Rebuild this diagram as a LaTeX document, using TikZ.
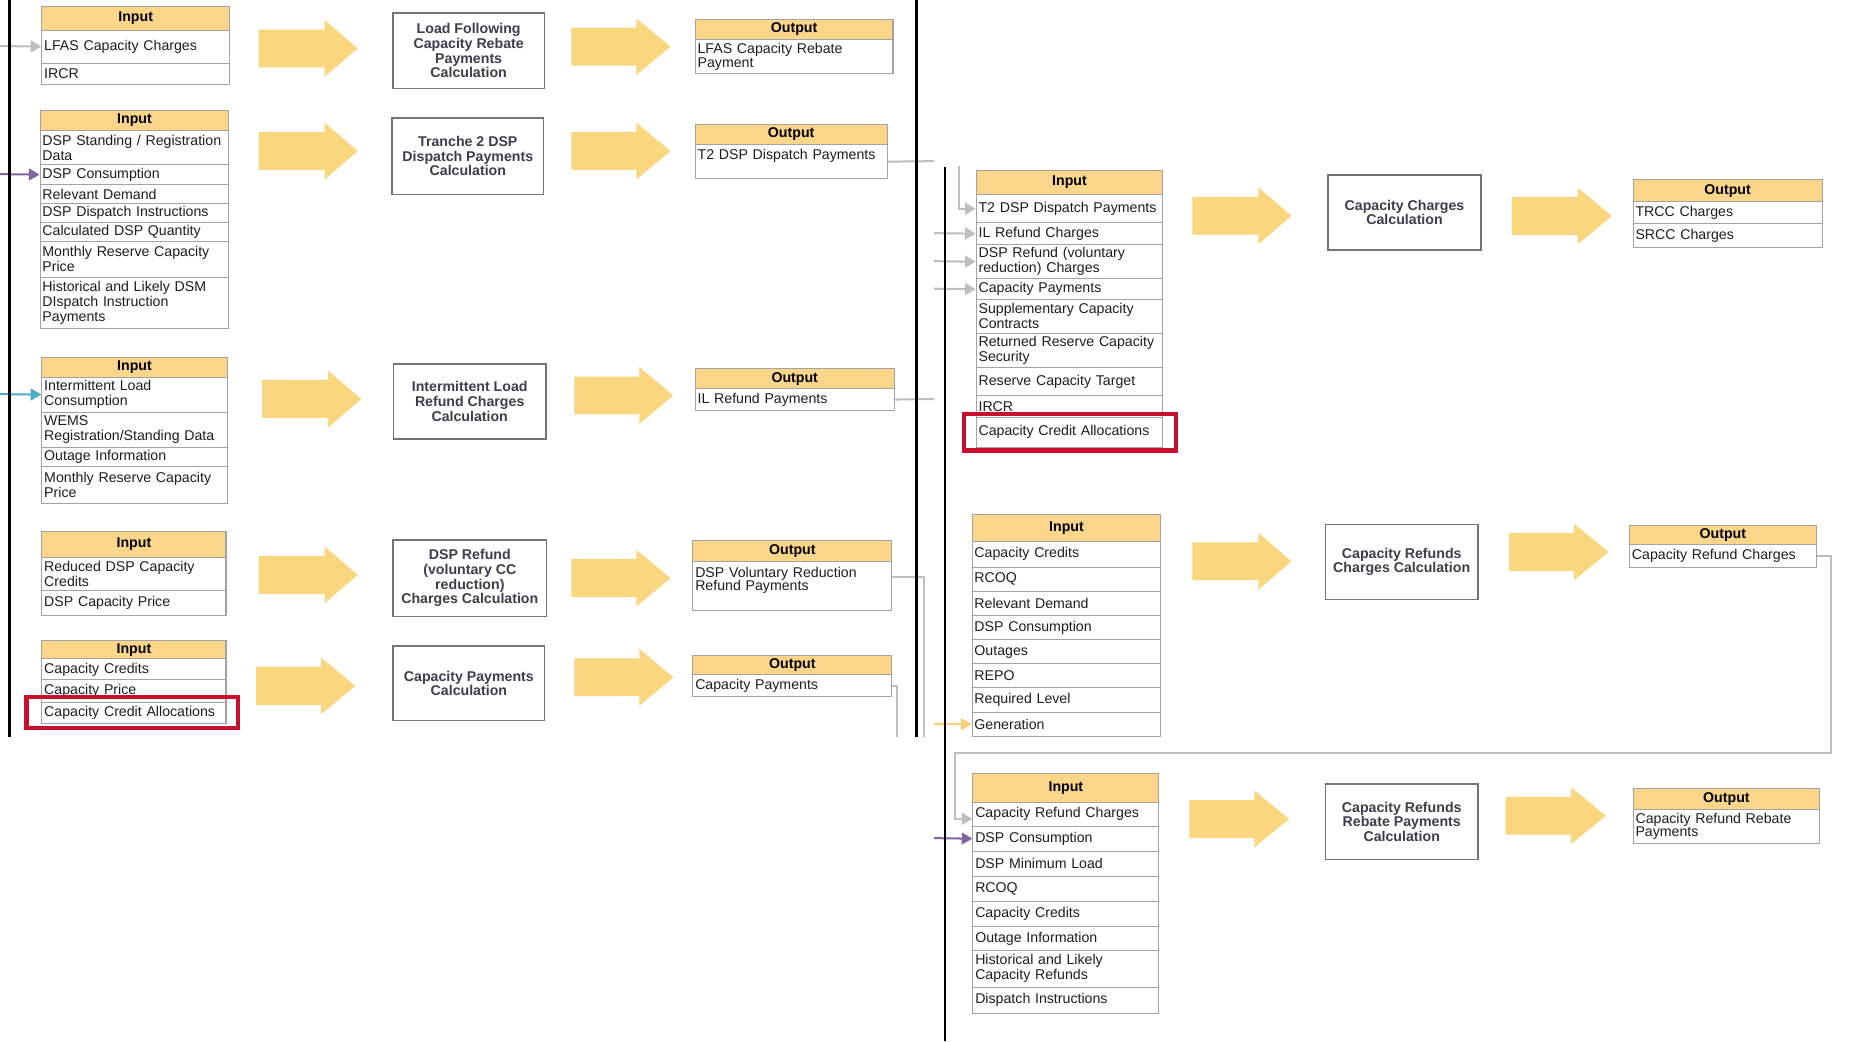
\documentclass[tikz,border=0pt]{standalone}
\usepackage{fontspec}
\setmainfont{Liberation Sans}
\usetikzlibrary{arrows.meta}

\definecolor{hdrfill}{HTML}{FAD58A}
\definecolor{bigarrow}{HTML}{FAD67E}
\definecolor{tblline}{HTML}{A3A3A3}
\definecolor{calcline}{HTML}{747474}
\definecolor{calctext}{HTML}{3D3D4D}
\definecolor{rowtext}{HTML}{1E1E1E}
\definecolor{linkgray}{HTML}{BEBEBE}
\definecolor{linkpurple}{HTML}{8064A2}
\definecolor{linkteal}{HTML}{4BACC6}
\definecolor{linkgold}{HTML}{F6D27C}
\definecolor{hilite}{HTML}{C8102E}

\newcommand\dgRow{\fontsize{12}{12.7}\selectfont}
\newcommand\dgOut{\fontsize{12}{11.7}\selectfont}
\newcommand\dgCalc{\fontsize{12}{12.4}\selectfont\bfseries}
\newcommand\dgHead{\fontsize{12}{13}\selectfont\bfseries}

% wide yellow process arrow: tail x, head base x, tip x, centre y
\newcommand\dgArrow[4]{%
  \fill[bigarrow] (#1,#4-16) -- (#2,#4-16) -- (#2,#4-24) -- (#3,#4)
    -- (#2,#4+24) -- (#2,#4+16) -- (#1,#4+16) -- cycle;}

\tikzset{
  cw/.code={\pgfmathsetmacro\dgtw{#1-4}%
    \edef\dgnext{\noexpand\pgfkeysalso{minimum width=#1pt,text width=\dgtw pt}}\dgnext},
  ch/.style={minimum height=#1pt},
  cell/.style={draw=tblline, line width=0.9pt, fill=white, anchor=north west,
    inner xsep=2pt, inner ysep=0.5pt, align=left, font=\dgRow, text=rowtext},
  outcell/.style={cell, font=\dgOut},
  hdrcell/.style={cell, fill=hdrfill, align=center, font=\dgHead, text=black},
  calcbox/.style={draw=calcline, line width=1.1pt, fill=white, align=center,
    font=\dgCalc, text=calctext, inner sep=0pt},
  link/.style={draw=linkgray, line width=1.7pt},
  linkarrow/.style={-{Triangle[length=9pt,width=10pt]}},
  panel/.style={draw=black, line width=2.5pt},
  redbox/.style={draw=hilite, line width=3.6pt}
}

\begin{document}
\begin{tikzpicture}[x=1pt,y=-1pt]
\fill[white] (0,0) rectangle (1568,882);
\useasboundingbox (0,0) rectangle (1568,882);

% ---------------- left column: five calculations ----------------
% Load Following Capacity Rebate
\node[hdrcell, cw=159, ch=20] (inA0) at (35,5) {Input};
\node[cell, cw=159, ch=28] (inA1) at (35,25) {LFAS Capacity Charges};
\node[cell, cw=159, ch=18] (inA2) at (35,53) {IRCR};
\dgArrow{219}{275}{303}{41}
\node[calcbox, minimum width=128pt, minimum height=64pt] (calcA) at (397,43)
  {Load Following\\Capacity Rebate\\Payments\\Calculation};
\dgArrow{484}{539}{568}{39.5}
\node[hdrcell, cw=167.5, ch=17] (outA0) at (588.5,16) {Output};
\node[outcell, cw=167.5, ch=29] (outA1) at (588.5,33) {LFAS Capacity Rebate\\Payment};

% Tranche 2 DSP Dispatch Payments
\node[hdrcell, cw=160, ch=17] (inB0) at (33.5,93) {Input};
\node[cell, cw=160, ch=29] (inB1) at (33.5,110) {DSP Standing / Registration\\Data};
\node[cell, cw=160, ch=17] (inB2) at (33.5,139) {DSP Consumption};
\node[cell, cw=160, ch=16] (inB3) at (33.5,156) {Relevant Demand};
\node[cell, cw=160, ch=16] (inB4) at (33.5,172) {DSP Dispatch Instructions};
\node[cell, cw=160, ch=16] (inB5) at (33.5,188) {Calculated DSP Quantity};
\node[cell, cw=160, ch=30.5] (inB6) at (33.5,204) {Monthly Reserve Capacity\\Price};
\node[cell, cw=160, ch=43] (inB7) at (33.5,234.5) {Historical and Likely DSM\\DIspatch Instruction\\Payments};
\dgArrow{219}{275}{303}{128}
\node[calcbox, minimum width=128.5pt, minimum height=64.5pt] (calcB) at (396.3,132.3)
  {Tranche 2 DSP\\Dispatch Payments\\Calculation};
\dgArrow{484}{539}{568}{128}
\node[hdrcell, cw=162.5, ch=17] (outB0) at (588.5,105) {Output};
\node[outcell, cw=162.5, ch=29] (outB1) at (588.5,122) {T2 DSP Dispatch Payments\\\mbox{}};

% Intermittent Load Refund Charges
\node[hdrcell, cw=157, ch=17] (inC0) at (35,302) {Input};
\node[cell, cw=157, ch=29.7] (inC1) at (35,319) {Intermittent Load\\Consumption};
\node[cell, cw=157, ch=29.7] (inC2) at (35,348.7) {WEMS\\Registration/Standing Data};
\node[cell, cw=157, ch=16.3] (inC3) at (35,378.4) {Outage Information};
\node[cell, cw=157, ch=31.7] (inC4) at (35,394.7) {Monthly Reserve Capacity\\Price};
\dgArrow{222}{278}{306}{338}
\node[calcbox, minimum width=129pt, minimum height=63.6pt] (calcC) at (397.9,340.1)
  {Intermittent Load\\Refund Charges\\Calculation};
\dgArrow{486.5}{541.6}{570.4}{335}
\node[hdrcell, cw=168.5, ch=17] (outC0) at (588.5,312) {Output};
\node[outcell, cw=168.5, ch=18] (outC1) at (588.5,329) {IL Refund Payments};

% DSP Refund (voluntary CC reduction) Charges
\node[hdrcell, cw=156, ch=22] (inD0) at (35,449.5) {Input};
\node[cell, cw=156, ch=28.5] (inD1) at (35,471.5) {Reduced DSP Capacity\\Credits};
\node[cell, cw=156, ch=21] (inD2) at (35,500) {DSP Capacity Price};
\dgArrow{219}{275}{303}{487}
\node[calcbox, minimum width=130pt, minimum height=65pt] (calcD) at (398,489.9)
  {DSP Refund\\(voluntary CC\\reduction)\\Charges Calculation};
\dgArrow{484}{539}{568}{489.7}
\node[hdrcell, cw=168.5, ch=17.3] (outD0) at (586.5,457.7) {Output};
\node[outcell, cw=168.5, ch=41.5] (outD1) at (586.5,475) {DSP Voluntary Reduction\\Refund Payments\\\mbox{}};

% Capacity Payments
\node[hdrcell, cw=156, ch=15.7] (inE0) at (35,542) {Input};
\node[cell, cw=156, ch=17.8] (inE1) at (35,557.7) {Capacity Credits};
\node[cell, cw=156, ch=18.9] (inE2) at (35,575.5) {Capacity Price};
\node[cell, cw=156, ch=18.3] (inE3) at (35,594.4) {Capacity Credit Allocations};
\draw[redbox] ([xshift=-12.5pt,yshift=3.9pt]inE3.north west) rectangle ([xshift=10pt,yshift=-2.8pt]inE3.south east);
\dgArrow{217}{272}{301}{581}
\node[calcbox, minimum width=128.4pt, minimum height=63.3pt] (calcE) at (397.2,578.9)
  {Capacity Payments\\Calculation};
\dgArrow{486.5}{541.6}{570.4}{573.7}
\node[hdrcell, cw=168.5, ch=16.4] (outE0) at (586.5,554.5) {Output};
\node[outcell, cw=168.5, ch=18.8] (outE1) at (586.5,570.9) {Capacity Payments};

% ---------------- right column: three calculations ----------------
% Capacity Charges
\node[hdrcell, cw=158, ch=20.3] (inF0) at (826.5,144) {Input};
\node[cell, cw=158, ch=24] (inF1) at (826.5,164.3) {T2 DSP Dispatch Payments};
\node[cell, cw=158, ch=18.4] (inF2) at (826.5,188.3) {IL Refund Charges};
\node[cell, cw=158, ch=29.1] (inF3) at (826.5,206.7) {DSP Refund (voluntary\\reduction) Charges};
\node[cell, cw=158, ch=17.5] (inF4) at (826.5,235.8) {Capacity Payments};
\node[cell, cw=158, ch=28.5] (inF5) at (826.5,253.3) {Supplementary Capacity\\Contracts};
\node[cell, cw=158, ch=28.8] (inF6) at (826.5,281.8) {Returned Reserve Capacity\\Security};
\node[cell, cw=158, ch=24] (inF7) at (826.5,310.6) {Reserve Capacity Target};
\node[cell, cw=158, ch=18.4] (inF8) at (826.5,334.6) {IRCR};
\node[cell, cw=158, ch=25.4] (inF9) at (826.5,353) {Capacity Credit Allocations};
\draw[redbox] ([xshift=-10pt,yshift=2.5pt]inF9.north west) rectangle ([xshift=10.5pt,yshift=-2.4pt]inF9.south east);
\dgArrow{1010}{1066}{1094}{182.8}
\node[calcbox, minimum width=129.5pt, minimum height=63.6pt] (calcF) at (1189.8,180)
  {Capacity Charges\\Calculation};
\dgArrow{1280.7}{1336.4}{1365.5}{183}
\node[hdrcell, cw=160, ch=18.7] (outF0) at (1383,151.6) {Output};
\node[outcell, cw=160, ch=18.9] (outF1) at (1383,170.3) {TRCC Charges};
\node[outcell, cw=160, ch=20.3] (outF2) at (1383,189.2) {SRCC Charges};

% Capacity Refunds Charges
\node[hdrcell, cw=160, ch=22.6] (inG0) at (823,435.4) {Input};
\node[cell, cw=160, ch=22] (inG1) at (823,458) {Capacity Credits};
\node[cell, cw=160, ch=20.3] (inG2) at (823,480) {RCOQ};
\node[cell, cw=160, ch=20.7] (inG3) at (823,500.3) {Relevant Demand};
\node[cell, cw=160, ch=20.3] (inG4) at (823,521) {DSP Consumption};
\node[cell, cw=160, ch=20.6] (inG5) at (823,541.3) {Outages};
\node[cell, cw=160, ch=20.3] (inG6) at (823,561.9) {REPO};
\node[cell, cw=160, ch=20.7] (inG7) at (823,582.2) {Required Level};
\node[cell, cw=160, ch=20.6] (inG8) at (823,602.9) {Generation};
\dgArrow{1010}{1066}{1094}{475.5}
\node[calcbox, minimum width=129.4pt, minimum height=63.5pt] (calcG) at (1187.4,476)
  {Capacity Refunds\\Charges Calculation};
\dgArrow{1278.3}{1333.3}{1362.6}{467.6}
\node[hdrcell, cw=158, ch=16.4] (outG0) at (1380,444.7) {Output};
\node[outcell, cw=158, ch=18.9] (outG1) at (1380,461.1) {Capacity Refund Charges};

% Capacity Refunds Rebate Payments
\node[hdrcell, cw=157.5, ch=24] (inH0) at (823.7,655) {Input};
\node[cell, cw=157.5, ch=20.4] (inH1) at (823.7,679) {Capacity Refund Charges};
\node[cell, cw=157.5, ch=21.2] (inH2) at (823.7,699.4) {DSP Consumption};
\node[cell, cw=157.5, ch=21.2] (inH3) at (823.7,720.6) {DSP Minimum Load};
\node[cell, cw=157.5, ch=21.2] (inH4) at (823.7,741.8) {RCOQ};
\node[cell, cw=157.5, ch=21.2] (inH5) at (823.7,763) {Capacity Credits};
\node[cell, cw=157.5, ch=20.5] (inH6) at (823.7,784.2) {Outage Information};
\node[cell, cw=157.5, ch=31.1] (inH7) at (823.7,804.7) {Historical and Likely\\Capacity Refunds};
\node[cell, cw=157.5, ch=22] (inH8) at (823.7,835.8) {Dispatch Instructions};
\dgArrow{1007.5}{1062.6}{1092}{693.8}
\node[calcbox, minimum width=129.4pt, minimum height=63.8pt] (calcH) at (1187.4,696)
  {Capacity Refunds\\Rebate Payments\\Calculation};
\dgArrow{1275.4}{1331}{1360.2}{691}
\node[hdrcell, cw=158, ch=17.5] (outH0) at (1383,667.8) {Output};
\node[outcell, cw=158, ch=28.5] (outH1) at (1383,685.3) {Capacity Refund Rebate\\Payments};

% ---------------- connectors ----------------
\coordinate (srcLFAS) at (0,39);
\coordinate (srcDSPa) at (0,147.5);
\coordinate (srcIL) at (0,333.9);
\draw[link, linkarrow] (srcLFAS) -- (inA1.west);
\draw[link, draw=linkpurple, linkarrow] (srcDSPa) -- (inB2.west);
\draw[link, draw=linkteal, linkarrow] (srcIL) -- (inC1.west);

\coordinate (cutT2) at (791,136.5);
\coordinate (cutIL) at (791,338);
\coordinate (cutDSPR) at (782.5,624);
\coordinate (cutCP) at (759.5,624);
\draw[link] (outB1.east) -- (cutT2);
\draw[link] (outC1.east) -- (cutIL);
\draw[link] ([yshift=7pt]outD1.east) -| (cutDSPR);
\draw[link] (outE1.east) -| (cutCP);

\coordinate (feedT2) at (812,141);
\coordinate (feedIL) at (791,197.5);
\coordinate (feedDSPR) at (791,221.25);
\coordinate (feedCP) at (791,244.55);
\draw[link, linkarrow] (feedT2) |- (inF1.west);
\draw[link, linkarrow] (feedIL) -- (inF2.west);
\draw[link, linkarrow] (feedDSPR) -- (inF3.west);
\draw[link, linkarrow] (feedCP) -- (inF4.west);

\coordinate (feedGen) at (791,613.2);
\coordinate (feedDSPb) at (791,710);
\draw[link, draw=linkgold, linkarrow] (feedGen) -- (inG8.west);
\draw[link, draw=linkpurple, linkarrow] (feedDSPb) -- (inH2.west);

\coordinate (loopR) at (1551,638);
\coordinate (loopL) at (809,638);
\draw[link, linkarrow] (outG1.east) -| (loopR) -- (loopL) |- ([yshift=-4pt]inH1.west);

% ---------------- panel borders ----------------
\coordinate (edgeAtop) at (8,0);
\coordinate (edgeAbot) at (8,624);
\coordinate (edgeBtop) at (776,0);
\coordinate (edgeBbot) at (776,624);
\coordinate (edgeCtop) at (800.5,141.5);
\coordinate (edgeCbot) at (800.5,882);
\draw[panel] (edgeAtop) -- (edgeAbot);
\draw[panel] (edgeBtop) -- (edgeBbot);
\draw[panel] (edgeCtop) -- (edgeCbot);
\end{tikzpicture}
\end{document}
